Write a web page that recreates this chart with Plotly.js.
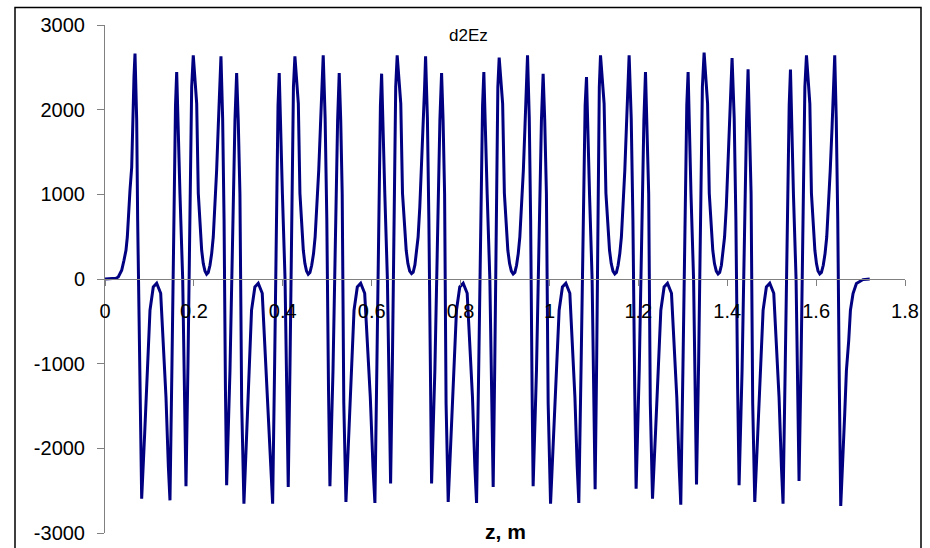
<!DOCTYPE html>
<html>
<head>
<meta charset="utf-8">
<script src="https://cdn.plot.ly/plotly-3.0.1.min.js"></script>
<style>
  html, body { margin: 0; padding: 0; background: #ffffff; }
  #chart { width: 930px; height: 548px; }
</style>
</head>
<body>
<div id="chart"></div>
<script>
// z, m  and  d2Ez values, segment by segment
const zStart = [0, 0.0157, 0.0247, 0.0299, 0.0376, 0.0427, 0.0472, 0.0502, 0.0524, 0.0562, 0.0601, 0.0623, 0.0652, 0.0675, 0.0713, 0.0735, 0.0776, 0.0803, 0.0825];
const eStart = [0, 0, 8, 24, 103, 221, 339, 496, 732, 1048, 1323, 1874, 2386, 2662, 1874, 693, -700, -2000, -2594];

const z1 = [0.0893, 0.0974, 0.1012, 0.1086, 0.1163, 0.1253, 0.1298, 0.1372, 0.1426, 0.1462, 0.1507, 0.1552, 0.1586, 0.1613, 0.1649, 0.1687, 0.1748, 0.1784, 0.1822, 0.1867, 0.1912, 0.1950, 0.1986, 0.2063, 0.2099, 0.2137, 0.2175, 0.2211, 0.2249, 0.2287, 0.2323, 0.2362, 0.2400, 0.2436, 0.2474, 0.2512, 0.2548, 0.2587, 0.2609, 0.2647, 0.2679, 0.2710, 0.2737, 0.2812, 0.2886, 0.2924, 0.2962, 0.2998, 0.3036, 0.3075, 0.3126];
const e1 = [-1822, -878, -370, -94, -50, -169, -685, -1394, -2220, -2614, -1000, 900, 2050, 2445, 1640, 1000, 0, -1470, -2448, -1000, 1087, 2268, 2642, 2072, 1012, 614, 339, 182, 94, 56, 76, 162, 300, 496, 850, 1284, 1795, 2268, 2630, 1900, 700, -1300, -2436, -1080, 1087, 1874, 2433, 1874, 1008, -1468, -2653];

const z2 = [0.3194, 0.3259, 0.3297, 0.3372, 0.3448, 0.3538, 0.3587, 0.3666, 0.3729, 0.3772, 0.3817, 0.3862, 0.3893, 0.3920, 0.3954, 0.3992, 0.4051, 0.4087, 0.4123, 0.4163, 0.4206, 0.4240, 0.4273, 0.4350, 0.4386, 0.4424, 0.4462, 0.4498, 0.4534, 0.4573, 0.4611, 0.4651, 0.4692, 0.4728, 0.4768, 0.4809, 0.4847, 0.4885, 0.4910, 0.4953, 0.4991, 0.5029, 0.5061, 0.5130, 0.5200, 0.5234, 0.5270, 0.5304, 0.5337, 0.5373, 0.5421];
const e2 = [-1822, -878, -370, -94, -50, -169, -685, -1394, -2220, -2653, -1000, 900, 2050, 2433, 1640, 1000, 0, -1470, -2457, -1000, 1087, 2268, 2630, 2072, 1012, 614, 339, 182, 94, 56, 76, 162, 300, 496, 850, 1284, 1795, 2268, 2642, 1900, 700, -1300, -2448, -1080, 1087, 1874, 2433, 1874, 1008, -1468, -2634];

const z3 = [0.5488, 0.5565, 0.5603, 0.5677, 0.5753, 0.5843, 0.5893, 0.5969, 0.6030, 0.6073, 0.6118, 0.6163, 0.6197, 0.6224, 0.6257, 0.6296, 0.6354, 0.6390, 0.6426, 0.6466, 0.6507, 0.6541, 0.6574, 0.6655, 0.6694, 0.6736, 0.6777, 0.6815, 0.6856, 0.6898, 0.6934, 0.6973, 0.7009, 0.7045, 0.7083, 0.7119, 0.7155, 0.7191, 0.7213, 0.7254, 0.7287, 0.7321, 0.7348, 0.7422, 0.7497, 0.7535, 0.7573, 0.7607, 0.7641, 0.7674, 0.7722];
const e3 = [-1822, -878, -370, -94, -50, -169, -685, -1394, -2220, -2646, -1000, 900, 2050, 2425, 1640, 1000, 0, -1470, -2416, -1000, 1087, 2268, 2642, 2072, 1012, 614, 339, 182, 94, 64, 80, 166, 300, 496, 850, 1284, 1795, 2268, 2630, 1900, 700, -1300, -2416, -1080, 1087, 1874, 2433, 1874, 1008, -1468, -2634];

const z4 = [0.7789, 0.7870, 0.7908, 0.7982, 0.8059, 0.8149, 0.8194, 0.8268, 0.8322, 0.8360, 0.8410, 0.8459, 0.8495, 0.8524, 0.8561, 0.8599, 0.8659, 0.8698, 0.8734, 0.8770, 0.8808, 0.8839, 0.8869, 0.8947, 0.8986, 0.9026, 0.9064, 0.9103, 0.9143, 0.9184, 0.9222, 0.9260, 0.9298, 0.9334, 0.9375, 0.9413, 0.9449, 0.9485, 0.9507, 0.9546, 0.9577, 0.9609, 0.9633, 0.9708, 0.9782, 0.9820, 0.9858, 0.9894, 0.9932, 0.9971, 1.0025];
const e4 = [-1822, -878, -370, -94, -50, -169, -685, -1394, -2220, -2646, -1000, 900, 2050, 2445, 1640, 1000, 0, -1470, -2457, -1000, 1087, 2268, 2614, 2072, 1012, 614, 339, 182, 94, 60, 78, 162, 300, 496, 850, 1284, 1795, 2268, 2642, 1900, 700, -1300, -2448, -1080, 1087, 1874, 2425, 1874, 1008, -1468, -2653];

const z5 = [1.0092, 1.0180, 1.0218, 1.0292, 1.0369, 1.0459, 1.0504, 1.0573, 1.0625, 1.0661, 1.0713, 1.0765, 1.0803, 1.0834, 1.0868, 1.0902, 1.0960, 1.0994, 1.1028, 1.1062, 1.1095, 1.1122, 1.1149, 1.1230, 1.1271, 1.1311, 1.1352, 1.1390, 1.1430, 1.1471, 1.1507, 1.1545, 1.1583, 1.1619, 1.1658, 1.1696, 1.1732, 1.1770, 1.1793, 1.1840, 1.1878, 1.1919, 1.1950, 1.2020, 1.2089, 1.2125, 1.2161, 1.2195, 1.2233, 1.2269, 1.2319];
const e5 = [-1822, -878, -370, -94, -50, -169, -685, -1394, -2220, -2646, -1000, 900, 2050, 2386, 1640, 1000, 0, -1470, -2484, -1000, 1087, 2268, 2642, 2072, 1012, 614, 339, 182, 94, 60, 78, 162, 300, 496, 850, 1284, 1795, 2268, 2642, 1900, 700, -1300, -2476, -1080, 1087, 1874, 2445, 1874, 1008, -1468, -2594];

const z6 = [1.2386, 1.2467, 1.2506, 1.2580, 1.2656, 1.2746, 1.2791, 1.2865, 1.2919, 1.2955, 1.3005, 1.3054, 1.3090, 1.3120, 1.3151, 1.3185, 1.3243, 1.3277, 1.3309, 1.3356, 1.3403, 1.3441, 1.3480, 1.3558, 1.3596, 1.3637, 1.3675, 1.3713, 1.3754, 1.3794, 1.3830, 1.3869, 1.3905, 1.3940, 1.3979, 1.4015, 1.4051, 1.4087, 1.4109, 1.4157, 1.4195, 1.4235, 1.4267, 1.4334, 1.4399, 1.4435, 1.4469, 1.4503, 1.4537, 1.4573, 1.4620];
const e6 = [-1822, -878, -370, -94, -50, -169, -685, -1394, -2220, -2665, -1000, 900, 2050, 2445, 1640, 1000, 0, -1470, -2428, -1000, 1087, 2268, 2674, 2072, 1012, 614, 339, 182, 94, 60, 78, 162, 300, 496, 850, 1284, 1795, 2268, 2610, 1900, 700, -1300, -2436, -1080, 1087, 1874, 2477, 1874, 1008, -1468, -2634];

const z7 = [1.4687, 1.4768, 1.4807, 1.4881, 1.4957, 1.5047, 1.5092, 1.5166, 1.5220, 1.5256, 1.5306, 1.5355, 1.5394, 1.5423, 1.5457, 1.5490, 1.5549, 1.5583, 1.5616, 1.5661, 1.5709, 1.5747, 1.5783, 1.5859, 1.5895, 1.5933, 1.5972, 1.6008, 1.6043, 1.6082, 1.6120, 1.6161, 1.6201, 1.6239, 1.6280, 1.6318, 1.6359, 1.6397, 1.6419, 1.6453, 1.6487, 1.6523, 1.6554, 1.6644, 1.6682, 1.6734, 1.6772, 1.6831, 1.6907, 1.7055, 1.7206];
const e7 = [-1822, -878, -370, -94, -50, -169, -685, -1394, -2220, -2653, -1000, 900, 2050, 2473, 1640, 1000, 0, -1470, -2386, -1000, 1087, 2268, 2642, 2072, 1012, 614, 339, 182, 94, 60, 78, 162, 300, 496, 850, 1284, 1795, 2268, 2642, 1900, 700, -1300, -2681, -1590, -1078, -724, -370, -172, -54, -7, 0];

const xTickVals = [0, 0.2, 0.4, 0.6, 0.8, 1, 1.2, 1.4, 1.6, 1.8];
const xTickText = ['0', '0.2', '0.4', '0.6', '0.8', '1', '1.2', '1.4', '1.6', '1.8'];
const yTickVals = [-3000, -2000, -1000, 0, 1000, 2000, 3000];
const yTickText = ['-3000', '-2000', '-1000', '0', '1000', '2000', '3000'];

const chartTitle = 'd2Ez';
const xTitle = 'z, m';

const zAll = [].concat(zStart, z1, z2, z3, z4, z5, z6, z7);
const eAll = [].concat(eStart, e1, e2, e3, e4, e5, e6, e7);

const FONT = 'Liberation Sans, Arial, Helvetica, sans-serif';

const trace = {
  x: zAll,
  y: eAll,
  type: 'scatter',
  mode: 'lines',
  line: { color: '#000080', width: 3 },
  hoverinfo: 'x+y',
  showlegend: false
};

const layout = {
  width: 930,
  height: 548,
  paper_bgcolor: '#ffffff',
  plot_bgcolor: 'rgba(0,0,0,0)',
  margin: { l: 105, r: 25, t: 25, b: 15, pad: 0 },
  font: { family: FONT, size: 20, color: '#000000' },
  showlegend: false,
  xaxis: {
    range: [0, 1.8],
    tickmode: 'array',
    tickvals: xTickVals,
    ticktext: xTickText,
    anchor: 'free',
    position: 0.5,
    showline: true,
    linecolor: '#808080',
    linewidth: 1,
    ticks: 'outside',
    ticklen: 6,
    tickcolor: '#808080',
    tickwidth: 1,
    showgrid: false,
    zeroline: false,
    tickfont: { family: FONT, size: 20, color: '#000000' },
    ticklabelstandoff: 8
  },
  yaxis: {
    range: [-3000, 3000],
    tickmode: 'array',
    tickvals: yTickVals,
    ticktext: yTickText,
    showline: true,
    linecolor: '#808080',
    linewidth: 1,
    ticks: 'outside',
    ticklen: 7,
    tickcolor: '#808080',
    tickwidth: 1,
    showgrid: false,
    zeroline: false,
    tickfont: { family: FONT, size: 20, color: '#000000' },
    ticklabelstandoff: 8
  },
  shapes: [
    {
      type: 'rect', xref: 'paper', yref: 'paper',
      x0: -0.1125, x1: 1.02, y0: -0.06, y1: 1.0344,
      line: { color: '#000000', width: 1.5 },
      fillcolor: 'rgba(0,0,0,0)',
      layer: 'below'
    }
  ],
  annotations: [
    {
      text: chartTitle, xref: 'paper', yref: 'paper',
      x: 0.4544, y: 0.980, xanchor: 'center', yanchor: 'middle',
      showarrow: false, font: { family: FONT, size: 17, color: '#000000' }
    },
    {
      text: '<b>' + xTitle + '</b>', xref: 'paper', yref: 'paper',
      x: 0.5, y: 0.002, xanchor: 'center', yanchor: 'middle',
      showarrow: false, font: { family: FONT, size: 21, color: '#000000' }
    }
  ]
};

Plotly.newPlot('chart', [trace], layout, { staticPlot: true, displayModeBar: false });
</script>
</body>
</html>
